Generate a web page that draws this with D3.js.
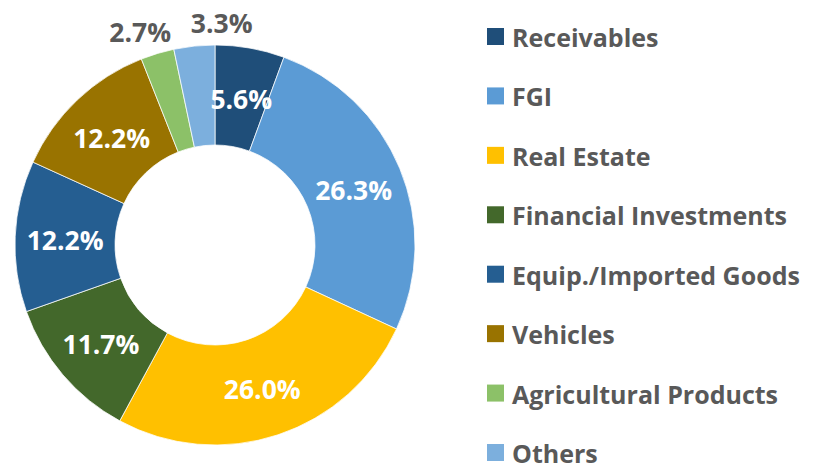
<!DOCTYPE html>
<html>
<head>
<meta charset="utf-8">
<script src="https://cdn.jsdelivr.net/npm/d3@7"></script>
<style>
  body { margin: 0; background: #fff; }
  text { font-family: "Open Sans", "Noto Sans", sans-serif; font-weight: bold; }
</style>
</head>
<body>
<div id="viz-container"></div>
<script>
// data
const categories = ["Receivables", "FGI", "Real Estate", "Financial Investments",
    "Equip./Imported Goods", "Vehicles", "Agricultural Products", "Others"];
const shares = [5.6, 26.3, 26.0, 11.7, 12.2, 12.2, 2.7, 3.3];
const colors = ["#1F4E79", "#5B9BD5", "#FFC000", "#43682B",
    "#255E91", "#997300", "#8CC168", "#7CAFDD"];
// small slices get their label outside the ring
const outside = [false, false, false, false, false, false, true, true];
const labelNudge = [0, 0, 0, 0, 0, 0, -10, 30];

const W = 818, H = 466;
const cx = 215, cy = 245, outerR = 200, innerR = 100;

const svg = d3.select("#viz-container")
    .append("svg")
    .attr("width", W)
    .attr("height", H);

const rows = categories.map((c, i) => ({ name: c, value: shares[i], color: colors[i], out: outside[i], nudge: labelNudge[i] }));

const pie = d3.pie().sort(null).value(d => d.value);
const arc = d3.arc().innerRadius(innerR).outerRadius(outerR);
const labelArc = d3.arc().innerRadius(225).outerRadius(225);

const chart = svg.append("g")
    .attr("transform", `translate(${cx},${cy})`);

const slices = pie(rows);

chart.selectAll("path")
    .data(slices)
    .enter().append("path")
    .attr("d", arc)
    .attr("fill", d => d.data.color)
    .attr("stroke", "#fff")
    .attr("stroke-width", 0.75);

// percentage labels
chart.selectAll("text.pct")
    .data(slices)
    .enter().append("text")
    .attr("class", "pct")
    .attr("x", d => (d.data.out ? labelArc.centroid(d)[0] : arc.centroid(d)[0]) + d.data.nudge)
    .attr("y", d => (d.data.out ? labelArc.centroid(d)[1] : arc.centroid(d)[1]) + 2)
    .attr("text-anchor", "middle")
    .attr("dominant-baseline", "central")
    .attr("font-size", "26.5px")
    .attr("fill", d => d.data.out ? "#595959" : "#fff")
    .text(d => d.data.value.toFixed(1) + "%");

// legend
const legendY = d3.scalePoint()
    .domain(categories)
    .range([36, 452]);

const legend = svg.append("g")
    .attr("transform", "translate(487,0)");

const item = legend.selectAll("g")
    .data(rows)
    .enter().append("g")
    .attr("transform", d => `translate(0,${legendY(d.name)})`);

item.append("rect")
    .attr("x", 0)
    .attr("y", -8)
    .attr("width", 17)
    .attr("height", 17)
    .attr("fill", d => d.color);

item.append("text")
    .attr("x", 25)
    .attr("y", 1)
    .attr("dominant-baseline", "central")
    .attr("font-size", "25px")
    .attr("fill", "#595959")
    .text(d => d.name);
</script>
</body>
</html>
